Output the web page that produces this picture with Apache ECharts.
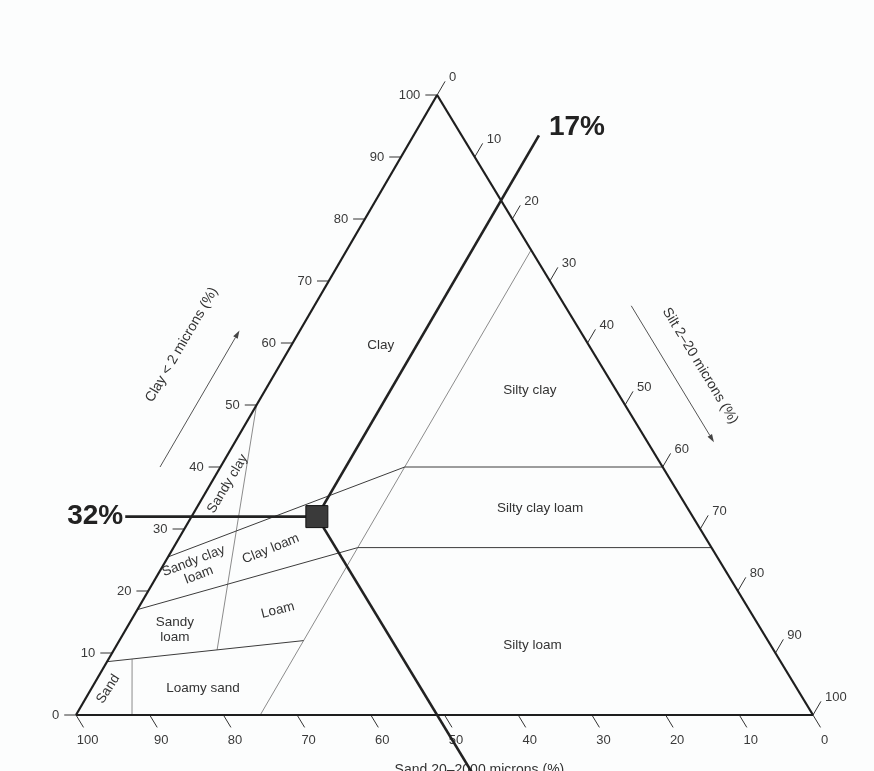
<!DOCTYPE html>
<html>
<head>
<meta charset="utf-8">
<title>Soil texture triangle</title>
<style>
    html, body { margin: 0; padding: 0; background: #fff; }
    #chart { width: 874px; height: 771px; }
</style>
<script src="https://cdn.jsdelivr.net/npm/echarts@6/dist/echarts.min.js"></script>
</head>
<body>
<div id="chart"></div>
<script>
// every point is [clay, silt] in percent, sand = 100 - clay - silt
const clayTicks = [0, 10, 20, 30, 40, 50, 60, 70, 80, 90, 100];
const siltTicks = [0, 10, 20, 30, 40, 50, 60, 70, 80, 90, 100];
const sandTicks = [100, 90, 80, 70, 60, 50, 40, 30, 20, 10, 0];

const frameLines = [
    [[0, 0], [100, 0]],
    [[100, 0], [0, 100]],
    [[0, 100], [0, 0]],
];

// texture class boundaries, dark ones
const classLines = [
    [[40, 25], [40, 60]],
    [[27, 25], [27, 73]],
    [[25.5, 0], [40, 25]],
    [[17, 0], [27, 25]],
    [[8.6, 0], [12, 25]],
];

// lighter boundaries
const guideLines = [
    [[75, 25], [0, 25]],
    [[50, 0], [10.5, 14]],
    [[9, 3.2], [0, 7.6]],
];

const classNames = ["Clay", "Silty clay", "Silty clay loam", "Silty loam", "Sandy clay",
    "Sandy clay\nloam", "Clay loam", "Sandy\nloam", "Loam", "Loamy sand", "Sand"];
const classCentres = [[59.7, 12.1], [52.4, 35.9], [33.4, 46.6], [11.3, 56.4], [37.3, 2.3],
    [23.7, 4.7], [26.8, 13.3], [13.7, 6.7], [16.9, 19.1], [4.35, 15.1], [4.2, 2.3]];

// worked example
const sample = { clay: 32, silt: 17, sand: 51 };

const axisTitles = ["Clay < 2 microns (%)", "Silt 2\u201320 microns (%)", "Sand 20\u20132000 microns (%)"];
const axisTitleAnchors = [[59.7, -14.9], [56.3, 57.1], [-8.9, 59.1]];
const axisArrows = [
    [[40, -8.2], [62, -8.2]],
    [[66, 43], [44, 65]],
];


const FONT = "'Liberation Sans', Arial, Helvetica, sans-serif";
const K = 0.49;   // apex sits at this fraction of the base, as printed

function tern(clay, silt) {
    return [silt + clay * K, clay];
}

function segData(segs) {
    return segs.map(([a, b]) => [...tern(a[0], a[1]), ...tern(b[0], b[1])]);
}

function segSeries(segs, color, width, z) {
    return {
        type: "custom",
        silent: true,
        z: z,
        data: segData(segs),
        renderItem: (params, api) => {
            const p = api.coord([api.value(0), api.value(1)]);
            const q = api.coord([api.value(2), api.value(3)]);
            return {
                type: "line",
                shape: { x1: p[0], y1: p[1], x2: q[0], y2: q[1] },
                style: { stroke: color, lineWidth: width, lineCap: "butt" },
            };
        },
    };
}

// ticks: from the edge point out to the tick end, label placed relative to the end
function tickSeries(ticks, from, to, lbl) {
    return {
        type: "custom",
        silent: true,
        z: 3,
        data: ticks.map(v => [...from(v), ...to(v)]),
        renderItem: (params, api) => {
            const p = api.coord([api.value(0), api.value(1)]);
            const q = api.coord([api.value(2), api.value(3)]);
            return {
                type: "group",
                children: [
                    {
                        type: "line",
                        shape: { x1: p[0], y1: p[1], x2: q[0], y2: q[1] },
                        style: { stroke: "#333", lineWidth: 1 },
                    },
                    {
                        type: "text",
                        x: q[0] + lbl.dx,
                        y: q[1] + lbl.dy,
                        style: {
                            text: String(ticks[params.dataIndex]),
                            align: lbl.align,
                            verticalAlign: "middle",
                            fontSize: 13,
                            fontFamily: FONT,
                            fill: "#3a3a3a",
                        },
                    },
                ],
            };
        },
    };
}

const classRotation = {
    "Sandy clay": 59, "Sandy clay\nloam": 21, "Clay loam": 22, "Loam": 14, "Sand": 57,
};

const chart = echarts.init(document.getElementById("chart"));

chart.setOption({
    backgroundColor: "#fcfdfd",
    animation: false,
    grid: { left: 76, top: 95, width: 737, height: 620 },
    xAxis: { type: "value", min: 0, max: 100, show: false },
    yAxis: { type: "value", min: 0, max: 100, show: false },
    series: [
        segSeries(guideLines, "#8c8c8c", 1, 2),
        segSeries(classLines, "#3c3c3c", 1, 2),
        segSeries(frameLines, "#1e1e1e", 2.2, 4),

        tickSeries(clayTicks, v => tern(v, 0), v => tern(v, -1.6), { dx: -5, dy: 0, align: "right" }),
        tickSeries(siltTicks, v => tern(100 - v, v), v => tern(102.2 - v, v), { dx: 4, dy: -4, align: "left" }),
        tickSeries(sandTicks, v => tern(0, 100 - v), v => tern(-2, 102 - v), { dx: 4, dy: 13, align: "center" }),

        // class names
        {
            type: "custom",
            silent: true,
            z: 3,
            data: classCentres.map(c => tern(c[0], c[1])),
            renderItem: (params, api) => {
                const p = api.coord([api.value(0), api.value(1)]);
                const name = classNames[params.dataIndex];
                return {
                    type: "text",
                    x: p[0],
                    y: p[1],
                    rotation: (classRotation[name] || 0) * Math.PI / 180,
                    style: {
                        text: name,
                        align: "center",
                        verticalAlign: "middle",
                        fontSize: 13.5,
                        lineHeight: 15,
                        fontFamily: FONT,
                        fill: "#333",
                    },
                };
            },
        },

        // axis titles
        {
            type: "custom",
            silent: true,
            z: 3,
            data: axisTitleAnchors.map(c => tern(c[0], c[1])),
            renderItem: (params, api) => {
                const p = api.coord([api.value(0), api.value(1)]);
                const rot = [59.8, -58.7, 0][params.dataIndex];
                return {
                    type: "text",
                    x: p[0],
                    y: p[1],
                    rotation: rot * Math.PI / 180,
                    style: {
                        text: axisTitles[params.dataIndex],
                        align: "center",
                        verticalAlign: "middle",
                        fontSize: 14,
                        fontFamily: FONT,
                        fill: "#333",
                    },
                };
            },
        },

        // axis title arrows
        {
            type: "custom",
            silent: true,
            z: 3,
            data: segData(axisArrows),
            renderItem: (params, api) => {
                const p = api.coord([api.value(0), api.value(1)]);
                const q = api.coord([api.value(2), api.value(3)]);
                const a = Math.atan2(q[1] - p[1], q[0] - p[0]);
                const L = 8, W = 2.6;
                const bx = q[0] - L * Math.cos(a), by = q[1] - L * Math.sin(a);
                return {
                    type: "group",
                    children: [
                        {
                            type: "line",
                            shape: { x1: p[0], y1: p[1], x2: bx, y2: by },
                            style: { stroke: "#555", lineWidth: 1 },
                        },
                        {
                            type: "polygon",
                            shape: {
                                points: [
                                    q,
                                    [bx - W * Math.sin(a), by + W * Math.cos(a)],
                                    [bx + W * Math.sin(a), by - W * Math.cos(a)],
                                ],
                            },
                            style: { fill: "#444" },
                        },
                    ],
                };
            },
        },

        // worked example: clay, silt and sand read-off lines
        segSeries([
            [[sample.clay, -9], [sample.clay, sample.silt]],
            [[sample.clay, sample.silt], [93.5, sample.silt]],
            [[sample.clay, sample.silt], [-9.5, 100 - sample.sand + 9.5]],
        ], "#222", 2.6, 5),

        {
            type: "custom",
            silent: true,
            z: 6,
            data: [tern(sample.clay, -9), tern(93.5, sample.silt)],
            renderItem: (params, api) => {
                const p = api.coord([api.value(0), api.value(1)]);
                const first = params.dataIndex === 0;
                return {
                    type: "text",
                    x: p[0] + (first ? -2 : 10),
                    y: p[1] + (first ? 0 : -8),
                    style: {
                        text: (first ? sample.clay : sample.silt) + "%",
                        align: first ? "right" : "left",
                        verticalAlign: "middle",
                        fontSize: 28,
                        fontWeight: "bold",
                        fontFamily: FONT,
                        fill: "#222",
                    },
                };
            },
        },

        {
            type: "scatter",
            silent: true,
            z: 7,
            symbol: "rect",
            symbolSize: 22,
            itemStyle: { color: "#3a3a3a", borderColor: "#111", borderWidth: 1, opacity: 1 },
            data: [tern(sample.clay, sample.silt)],
        },
    ],
});

window.addEventListener("resize", () => chart.resize());
</script>
</body>
</html>
